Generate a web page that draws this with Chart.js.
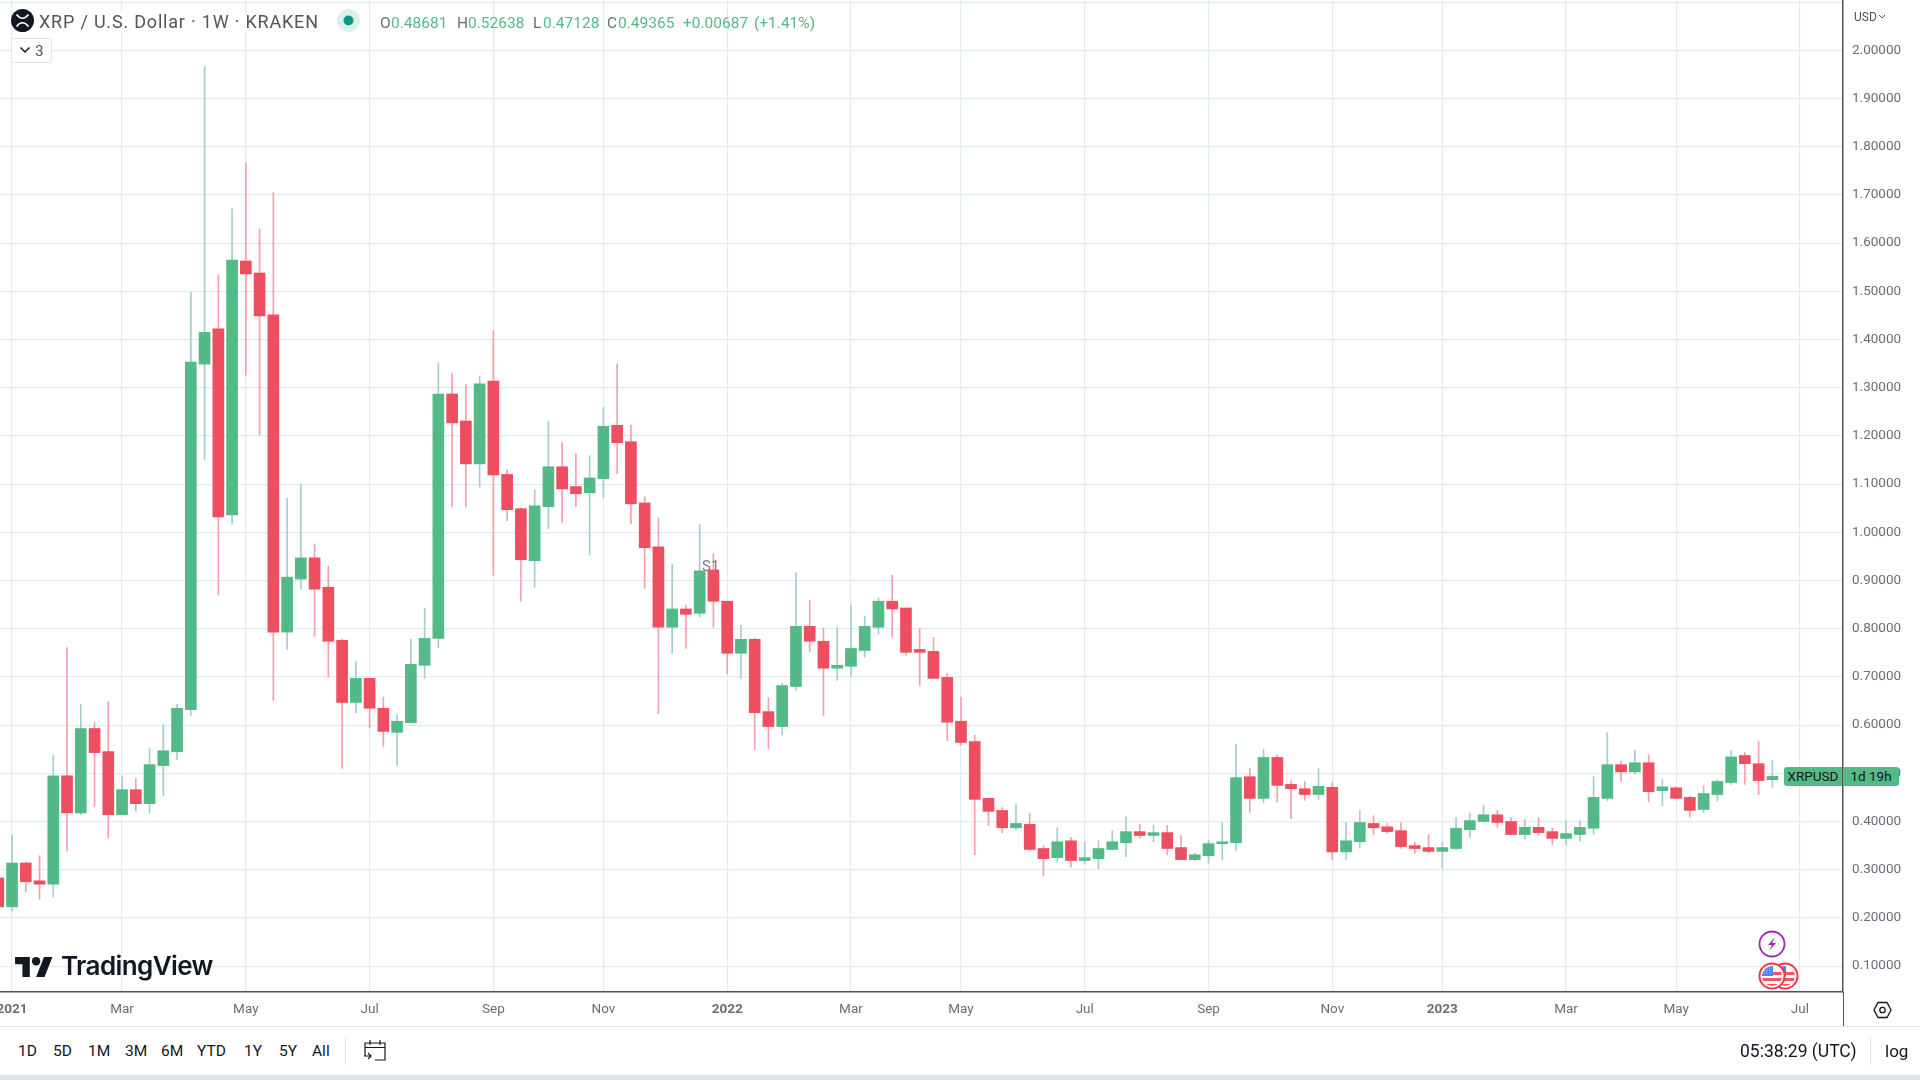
<!DOCTYPE html>
<html>
<head>
<meta charset="utf-8">
<title>XRP / U.S. Dollar</title>
<script src="https://cdn.jsdelivr.net/npm/chart.js@4/dist/chart.umd.min.js"></script>
<style>
    html, body { margin: 0; padding: 0; background: #fff; overflow: hidden; }
    body { width: 1920px; height: 1080px; position: relative; font-family: Roboto, sans-serif; }
    canvas { position: absolute; left: 0; top: 0; display: block; }
    .t { position: absolute; white-space: nowrap; line-height: 20px; }
    .line { position: absolute; }
    svg { position: absolute; overflow: visible; }
    .title { left: 39px; top: 12px; font-size: 18px; letter-spacing: 0.8px; color: #555; padding-right: 2px; background: rgba(255,255,255,.85); }
    .ohlc { top: 12.5px; font-size: 15.5px; color: #53b987; }
    .ohlc.k { color: #6a6d78; }
    .range { top: 1041px; font-size: 15.5px; color: #131722; }
    .tag { position: absolute; top: 767px; height: 19px; background: #53b987; color: #131722; font-size: 13.5px; line-height: 19px; text-align: center; }
</style>
</head>
<body>
<canvas id="chart" width="1920" height="1026"></canvas>

<!-- legend -->
<svg style="left:11px;top:9px" width="23" height="23" viewBox="0 0 23 23">
    <circle cx="11.5" cy="11.5" r="11.5" fill="#131722"/>
    <path d="M5.5 5.5 Q11.5 13 17.5 5.5 M5.5 17.5 Q11.5 10 17.5 17.5" fill="none" stroke="#fff" stroke-width="1.7"/>
</svg>
<div class="t title">XRP / U.S. Dollar · 1W · KRAKEN</div>
<svg style="left:337px;top:9px" width="23" height="23">
    <circle cx="11.5" cy="11.5" r="11.5" fill="#dcf1ec"/>
    <circle cx="11.5" cy="11.5" r="5" fill="#089981"/>
</svg>
<div class="t ohlc k" style="left:380px">O</div><div class="t ohlc" style="left:391px">0.48681</div>
<div class="t ohlc k" style="left:457px">H</div><div class="t ohlc" style="left:468px">0.52638</div>
<div class="t ohlc k" style="left:533px">L</div><div class="t ohlc" style="left:543px">0.47128</div>
<div class="t ohlc k" style="left:607px">C</div><div class="t ohlc" style="left:618px">0.49365</div>
<div class="t ohlc" style="left:683px">+0.00687</div>
<div class="t ohlc" style="left:754px">(+1.41%)</div>

<div style="position:absolute;left:11px;top:38px;width:39px;height:23px;border:1px solid #e0e3eb;border-radius:3px;background:#fff"></div>
<svg style="left:19px;top:46px" width="12" height="8"><path d="M1.5 1.5 L6 6 L10.5 1.5" fill="none" stroke="#131722" stroke-width="1.5"/></svg>
<div class="t" style="left:35px;top:40.5px;font-size:15px;color:#50535e">3</div>

<div class="t" style="left:702px;top:556px;font-size:15px;color:#787b86">S1</div>

<!-- price axis bits -->
<div class="t" style="left:1854px;top:6.5px;font-size:12px;color:#50535e">USD</div>
<svg style="left:1878px;top:13.5px" width="8" height="6"><path d="M1 1 L4 4 L7 1" fill="none" stroke="#50535e" stroke-width="1"/></svg>
<div class="tag" style="left:1784px;width:58px;border-radius:3px 0 0 3px">XRPUSD</div>
<div class="tag" style="left:1843px;width:56px;border-radius:0 3px 3px 0">1d 19h</div>

<!-- event markers -->
<svg style="left:1758px;top:930px" width="28" height="28" viewBox="0 0 28 28">
    <circle cx="14" cy="14" r="12.5" fill="#fff" stroke="#9c27b0" stroke-width="1.8"/>
    <path d="M17 7 L10 15 L14 15 L11 21 L18 13 L14 13 Z" fill="#9c27b0"/>
</svg>
<svg style="left:1758px;top:962px" width="42" height="28" viewBox="0 0 42 28">
    <defs>
        <clipPath id="clipBack"><circle cx="27" cy="14" r="10"/></clipPath>
        <clipPath id="clipFront"><circle cx="14" cy="14" r="10"/></clipPath>
    </defs>
    <circle cx="27" cy="14" r="12.5" fill="#fff" stroke="#f23645" stroke-width="2"/>
    <g clip-path="url(#clipBack)">
        <path d="M15 10 H40 V13 H15 Z M15 16 H40 V19 H15 Z M15 22 H40 V25 H15 Z" fill="#f7525f"/>
        <path d="M15 3 H28 V14 H15 Z" fill="#4285f4"/>
    </g>
    <circle cx="14" cy="14" r="12.5" fill="#fff" stroke="#f23645" stroke-width="2"/>
    <g clip-path="url(#clipFront)">
        <path d="M2 10 H27 V13 H2 Z M2 16 H27 V19 H2 Z M2 22 H27 V25 H2 Z" fill="#f7525f"/>
        <path d="M2 3 H15 V14 H2 Z" fill="#4285f4"/>
        <path d="M6 6 H14 M6 8.5 H14 M6 11 H14" stroke="#cfe0fb" stroke-width="1" stroke-dasharray="1 1.5"/>
    </g>
</svg>

<!-- watermark -->
<svg style="left:15px;top:957px" width="38" height="20" viewBox="0 0 36 19">
    <path d="M14 19H7V7H0V0h14v19zM28 19h-8l7.5-19h8L28 19z" fill="#131722"/>
    <circle cx="20" cy="4" r="4" fill="#131722"/>
</svg>
<div class="t" style="left:61px;top:952px;font-family:Inter,sans-serif;font-size:26px;font-weight:600;line-height:28px;letter-spacing:-0.6px;color:#131722">TradingView</div>

<!-- bottom bands -->
<div class="line" style="left:0;top:1026px;width:1920px;height:1px;background:#e0e3eb"></div>
<div class="line" style="left:1843px;top:992px;width:1px;height:34px;background:#50535e"></div>
<svg style="left:1873px;top:1001px" width="19" height="18" viewBox="0 0 19 18">
    <path d="M5 1.5 H14 L18 9 L14 16.5 H5 L1 9 Z" fill="none" stroke="#131722" stroke-width="1.3"/>
    <circle cx="9.5" cy="9" r="2.7" fill="none" stroke="#131722" stroke-width="1.3"/>
</svg>
<div class="t range" style="left:18px">1D</div>
<div class="t range" style="left:53px">5D</div>
<div class="t range" style="left:88px">1M</div>
<div class="t range" style="left:125px">3M</div>
<div class="t range" style="left:161px">6M</div>
<div class="t range" style="left:197px">YTD</div>
<div class="t range" style="left:244px">1Y</div>
<div class="t range" style="left:279px">5Y</div>
<div class="t range" style="left:312px">All</div>
<div class="line" style="left:345px;top:1037px;width:1px;height:28px;background:#e0e3eb"></div>
<svg style="left:363px;top:1039px" width="24" height="23" viewBox="0 0 24 23">
    <path d="M2 17 V4 H22 V21 H12 M2 8.5 H22 M7 1 V6 M17 1 V6 M1 17 H8 M5 14 L8 17 L5 20" fill="none" stroke="#131722" stroke-width="1.2"/>
</svg>
<div class="t" style="left:1740px;top:1041px;font-size:17.5px;color:#131722">05:38:29 (UTC)</div>
<div class="line" style="left:1870px;top:1037px;width:1px;height:28px;background:#e0e3eb"></div>
<div class="t" style="left:1885px;top:1041px;font-size:17px;color:#131722">log</div>
<div class="line" style="left:0;top:1075px;width:1920px;height:5px;background:#e0e3eb"></div>

<script>
// weekly candles, index 0 is the first week of 2021
const firstWeek = -1;
const opens = [
    0.283, 0.223, 0.314, 0.277, 0.270, 0.495, 0.418, 0.593, 0.545, 0.414,
    0.466, 0.437, 0.516, 0.545, 0.632, 1.349, 1.422, 1.036, 1.563, 1.538,
    1.451, 0.793, 0.903, 0.947, 0.886, 0.776, 0.647, 0.697, 0.635, 0.585,
    0.605, 0.724, 0.780, 1.287, 1.231, 1.142, 1.314, 1.120, 1.049, 0.941,
    1.053, 1.136, 1.095, 1.082, 1.111, 1.222, 1.188, 1.061, 0.970, 0.803,
    0.841, 0.832, 0.922, 0.857, 0.749, 0.778, 0.628, 0.597, 0.680, 0.805,
    0.774, 0.718, 0.722, 0.755, 0.803, 0.857, 0.843, 0.757, 0.753, 0.699,
    0.608, 0.566, 0.448, 0.423, 0.387, 0.394, 0.344, 0.325, 0.360, 0.319,
    0.323, 0.342, 0.356, 0.379, 0.371, 0.377, 0.346, 0.321, 0.329, 0.354,
    0.356, 0.493, 0.448, 0.533, 0.477, 0.468, 0.456, 0.471, 0.337, 0.358,
    0.396, 0.389, 0.381, 0.350, 0.346, 0.338, 0.344, 0.383, 0.400, 0.414,
    0.400, 0.373, 0.388, 0.379, 0.365, 0.373, 0.386, 0.448, 0.518, 0.503,
    0.522, 0.464, 0.470, 0.450, 0.425, 0.456, 0.481, 0.537, 0.520, 0.48681
];
const highs = [
    0.300, 0.372, 0.316, 0.329, 0.537, 0.761, 0.643, 0.605, 0.649, 0.495,
    0.489, 0.551, 0.601, 0.643, 1.498, 1.967, 1.534, 1.671, 1.766, 1.629,
    1.705, 1.071, 1.100, 0.976, 0.930, 0.778, 0.732, 0.697, 0.658, 0.622,
    0.778, 0.843, 1.351, 1.330, 1.306, 1.324, 1.418, 1.130, 1.051, 1.088,
    1.230, 1.186, 1.163, 1.159, 1.259, 1.349, 1.222, 1.074, 1.030, 0.934,
    0.849, 1.016, 0.955, 0.857, 0.807, 0.780, 0.657, 0.687, 0.916, 0.859,
    0.801, 0.803, 0.849, 0.826, 0.864, 0.911, 0.843, 0.800, 0.782, 0.708,
    0.658, 0.579, 0.448, 0.429, 0.435, 0.417, 0.350, 0.387, 0.367, 0.358,
    0.360, 0.381, 0.410, 0.394, 0.392, 0.392, 0.371, 0.335, 0.362, 0.398,
    0.560, 0.510, 0.550, 0.539, 0.485, 0.483, 0.510, 0.481, 0.398, 0.423,
    0.412, 0.396, 0.398, 0.357, 0.373, 0.357, 0.408, 0.417, 0.433, 0.423,
    0.408, 0.404, 0.408, 0.386, 0.402, 0.402, 0.493, 0.584, 0.526, 0.547,
    0.539, 0.487, 0.472, 0.452, 0.474, 0.487, 0.547, 0.543, 0.566, 0.52638
];
const lows = [
    0.210, 0.214, 0.254, 0.239, 0.243, 0.339, 0.414, 0.431, 0.366, 0.414,
    0.422, 0.418, 0.454, 0.528, 0.620, 1.152, 0.870, 1.017, 1.326, 1.202,
    0.651, 0.757, 0.882, 0.784, 0.699, 0.510, 0.626, 0.594, 0.555, 0.516,
    0.605, 0.697, 0.761, 1.053, 1.053, 1.094, 0.911, 1.024, 0.857, 0.886,
    1.007, 1.020, 1.053, 0.953, 1.072, 1.122, 1.018, 0.884, 0.624, 0.749,
    0.759, 0.824, 0.803, 0.707, 0.697, 0.549, 0.551, 0.580, 0.672, 0.753,
    0.620, 0.693, 0.701, 0.741, 0.789, 0.782, 0.745, 0.683, 0.697, 0.568,
    0.558, 0.331, 0.392, 0.377, 0.383, 0.340, 0.288, 0.315, 0.306, 0.313,
    0.302, 0.342, 0.327, 0.365, 0.358, 0.331, 0.321, 0.319, 0.313, 0.321,
    0.340, 0.419, 0.439, 0.441, 0.406, 0.444, 0.446, 0.321, 0.321, 0.346,
    0.373, 0.375, 0.344, 0.334, 0.334, 0.303, 0.342, 0.367, 0.398, 0.388,
    0.373, 0.363, 0.371, 0.352, 0.352, 0.359, 0.373, 0.443, 0.483, 0.499,
    0.441, 0.433, 0.448, 0.410, 0.419, 0.443, 0.477, 0.477, 0.456, 0.47128
];
const closes = [
    0.223, 0.314, 0.275, 0.270, 0.495, 0.418, 0.593, 0.543, 0.414, 0.466,
    0.437, 0.518, 0.547, 0.635, 1.353, 1.415, 1.032, 1.565, 1.536, 1.449,
    0.793, 0.907, 0.947, 0.882, 0.774, 0.647, 0.697, 0.635, 0.587, 0.608,
    0.726, 0.780, 1.287, 1.227, 1.142, 1.308, 1.119, 1.047, 0.943, 1.055,
    1.136, 1.090, 1.080, 1.113, 1.220, 1.186, 1.059, 0.968, 0.803, 0.841,
    0.830, 0.920, 0.857, 0.749, 0.778, 0.626, 0.597, 0.682, 0.805, 0.774,
    0.718, 0.724, 0.759, 0.805, 0.857, 0.841, 0.751, 0.751, 0.697, 0.606,
    0.564, 0.446, 0.421, 0.387, 0.396, 0.342, 0.323, 0.358, 0.319, 0.325,
    0.344, 0.358, 0.379, 0.371, 0.377, 0.344, 0.321, 0.331, 0.354, 0.358,
    0.491, 0.448, 0.533, 0.475, 0.468, 0.456, 0.473, 0.337, 0.360, 0.398,
    0.387, 0.379, 0.348, 0.344, 0.338, 0.346, 0.386, 0.402, 0.414, 0.398,
    0.373, 0.388, 0.377, 0.365, 0.375, 0.388, 0.450, 0.518, 0.503, 0.522,
    0.462, 0.472, 0.448, 0.423, 0.458, 0.483, 0.534, 0.520, 0.485, 0.49365
];

const timeTicks = [0, 8, 17, 26, 35, 43, 52, 61, 69, 78, 87, 96, 104, 113, 121, 130];
const timeLabels = ['2021', 'Mar', 'May', 'Jul', 'Sep', 'Nov', '2022', 'Mar', 'May', 'Jul', 'Sep', 'Nov', '2023', 'Mar', 'May', 'Jul'];
const priceTicks = [0.1, 0.2, 0.3, 0.4, 0.5, 0.6, 0.7, 0.8, 0.9, 1.0, 1.1, 1.2, 1.3, 1.4, 1.5, 1.6, 1.7, 1.8, 1.9, 2.0, 2.1];

const upColor = '#53b987';
const downColor = '#ed4f60';
const upWick = '#a5cdd0';
const downWick = '#f59fab';
const gridColor = '#e1ecf2';

const isUp = closes.map((c, i) => c >= opens[i]);
const wicks = lows.map((l, i) => ({ x: i + firstWeek, y: [l, highs[i]] }));
const bodies = opens.map((o, i) => ({ x: i + firstWeek, y: [o, closes[i]] }));

new Chart(document.getElementById('chart').getContext('2d'), {
    type: 'bar',
    data: {
        datasets: [
            {
                data: wicks,
                barThickness: 1,
                backgroundColor: isUp.map(u => u ? upWick : downWick),
                grouped: false,
                order: 2
            },
            {
                data: bodies,
                barThickness: 11,
                backgroundColor: isUp.map(u => u ? upColor : downColor),
                grouped: false,
                order: 1
            }
        ]
    },
    options: {
        responsive: false,
        animation: false,
        devicePixelRatio: 1,
        layout: { padding: 0 },
        plugins: { legend: { display: false }, tooltip: { enabled: false } },
        scales: {
            x: {
                type: 'linear',
                offset: false,
                min: -0.875,
                max: 133.135,
                afterBuildTicks: s => { s.ticks = timeTicks.map(v => ({ value: v })); },
                afterFit: s => { s.height = 34; s.paddingLeft = 0; s.paddingRight = 0; },
                grid: { color: gridColor, lineWidth: 1.2, offset: false, drawTicks: false },
                border: { display: true, color: '#50535e', width: 1.5 },
                ticks: {
                    autoSkip: false,
                    maxRotation: 0,
                    padding: 10,
                    color: '#6a6d78',
                    font: c => ({ family: 'Roboto', size: 13.5, weight: (c.tick && c.tick.value % 52 === 0) ? '700' : '400' }),
                    callback: v => timeLabels[timeTicks.indexOf(v)]
                }
            },
            y: {
                position: 'right',
                min: 0.0463,
                max: 2.1044,
                afterBuildTicks: s => { s.ticks = priceTicks.map(v => ({ value: v })); },
                afterFit: s => { s.width = 77; s.paddingTop = 0; s.paddingBottom = 0; },
                grid: { color: gridColor, lineWidth: 1.2, drawTicks: false },
                border: { display: true, color: '#50535e', width: 1.5 },
                ticks: {
                    padding: 9,
                    color: '#6a6d78',
                    font: { family: 'Roboto', size: 13.5 },
                    callback: v => v > 2.05 ? '' : v.toFixed(5)
                }
            }
        }
    }
});
</script>
</body>
</html>
